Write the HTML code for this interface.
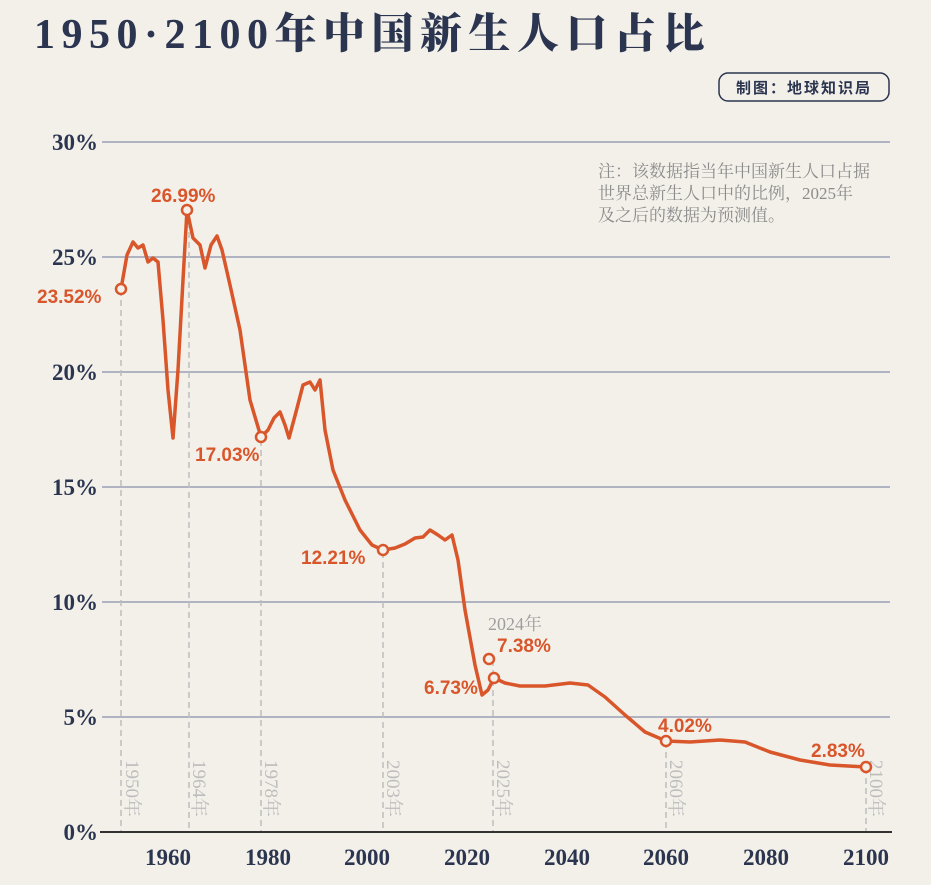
<!DOCTYPE html>
<html><head><meta charset="utf-8"><style>
body{margin:0;background:#f3f0e9;}
svg{display:block}
</style></head><body>
<svg width="931" height="885" viewBox="0 0 931 885" xmlns="http://www.w3.org/2000/svg">
<rect width="931" height="885" fill="#f3f0e9"/>
<text x="34" y="48" font-family="Liberation Serif, Noto Serif CJK SC, serif" font-size="42" font-weight="900" fill="#2b3550" letter-spacing="6.5">1950·2100年中国新生人口占比</text>
<rect x="719" y="73" width="170" height="28" rx="9" fill="none" stroke="#2b3550" stroke-width="1.5"/>
<text x="804" y="93" text-anchor="middle" font-family="Liberation Sans, Noto Sans CJK SC, sans-serif" font-size="15" font-weight="700" fill="#2b3550" letter-spacing="2">制图：地球知识局</text>
<g stroke="#9aa0b5" stroke-width="1.5">
<line x1="102" y1="142" x2="890" y2="142"/><line x1="102" y1="257" x2="890" y2="257"/>
<line x1="102" y1="372" x2="890" y2="372"/><line x1="102" y1="487" x2="890" y2="487"/>
<line x1="102" y1="602" x2="890" y2="602"/><line x1="102" y1="717" x2="890" y2="717"/>
</g>
<g font-family="Liberation Serif, Noto Serif CJK SC, serif" font-size="17" fill="#8c8c8c">
<text x="598" y="177">注：该数据指当年中国新生人口占据</text>
<text x="598" y="199">世界总新生人口中的比例，2025年</text>
<text x="598" y="221">及之后的数据为预测值。</text>
</g>
<g font-family="Liberation Serif, serif" font-size="23" font-weight="700" fill="#2b3550" text-anchor="end">
<text x="98" y="150">30%</text><text x="98" y="265">25%</text><text x="98" y="380">20%</text>
<text x="98" y="495">15%</text><text x="98" y="610">10%</text><text x="98" y="725">5%</text><text x="98" y="840">0%</text>
</g>
<g stroke="#bdbdbd" stroke-width="1.5" stroke-dasharray="6,4">
<line x1="121" y1="290" x2="121" y2="832"/><line x1="189" y1="212" x2="189" y2="832"/>
<line x1="261" y1="440" x2="261" y2="832"/><line x1="383" y1="552" x2="383" y2="832"/>
<line x1="493" y1="660" x2="493" y2="832"/><line x1="666" y1="742" x2="666" y2="832"/>
<line x1="866" y1="768" x2="866" y2="832"/>
</g>
<g font-family="Liberation Serif, Noto Serif CJK SC, serif" font-size="19" fill="#bdbdbd">
<text transform="translate(126,760) rotate(90)">1950年</text>
<text transform="translate(193,760) rotate(90)">1964年</text>
<text transform="translate(265,760) rotate(90)">1978年</text>
<text transform="translate(387,760) rotate(90)">2003年</text>
<text transform="translate(497,760) rotate(90)">2025年</text>
<text transform="translate(670,760) rotate(90)">2060年</text>
<text transform="translate(870,760) rotate(90)">2100年</text>
</g>
<line x1="100" y1="832" x2="892" y2="832" stroke="#333" stroke-width="2"/>
<g font-family="Liberation Serif, serif" font-size="23" font-weight="700" fill="#2b3550" text-anchor="middle">
<text x="168" y="865">1960</text><text x="268" y="865">1980</text><text x="367" y="865">2000</text>
<text x="467" y="865">2020</text><text x="567" y="865">2040</text><text x="666" y="865">2060</text>
<text x="766" y="865">2080</text><text x="866" y="865">2100</text>
</g>
<polyline fill="none" stroke="#d9562b" stroke-width="3.5" stroke-linejoin="round" stroke-linecap="round" points="121,289 127,255 133,242 138,248 143,245 148,262 153,258 158,262 163,320 168,390 173,438 178,370 183,280 187,210 193,238 200,245 205,268 211,245 217,236 222,250 230,285 240,330 250,400 261,437 268,430 274,418 280,412 285,425 289,438 296,412 303,385 310,382 315,390 320,380 325,430 333,470 345,500 360,530 372,545 383,550 395,548 405,544 415,538 423,537 430,530 438,535 445,540 452,535 458,560 465,610 475,665 482,695 488,690 494,678 505,683 520,686 545,686 570,683 588,685 605,697 625,715 645,732 666,741 690,742 720,740 745,742 770,752 800,760 830,765 866,767"/>
<g fill="#f3f0e9" stroke="#d9562b" stroke-width="2.5">
<circle cx="121" cy="289" r="5"/><circle cx="187" cy="210" r="5"/><circle cx="261" cy="437" r="5"/>
<circle cx="383" cy="550" r="5"/><circle cx="489" cy="659" r="5"/><circle cx="494" cy="678" r="5"/>
<circle cx="666" cy="741" r="5"/><circle cx="866" cy="767" r="5"/>
</g>
<g font-family="Liberation Sans, sans-serif" font-size="19" font-weight="700" fill="#d9562b">
<text x="37" y="303">23.52%</text>
<text x="151" y="202">26.99%</text>
<text x="195" y="461">17.03%</text>
<text x="301" y="564">12.21%</text>
<text x="497" y="652">7.38%</text>
<text x="424" y="694">6.73%</text>
<text x="658" y="732">4.02%</text>
<text x="811" y="757">2.83%</text>
</g>
<text x="488" y="630" font-family="Liberation Serif, Noto Serif CJK SC, serif" font-size="18" fill="#9e9e9e">2024年</text>
</svg>
</body></html>
